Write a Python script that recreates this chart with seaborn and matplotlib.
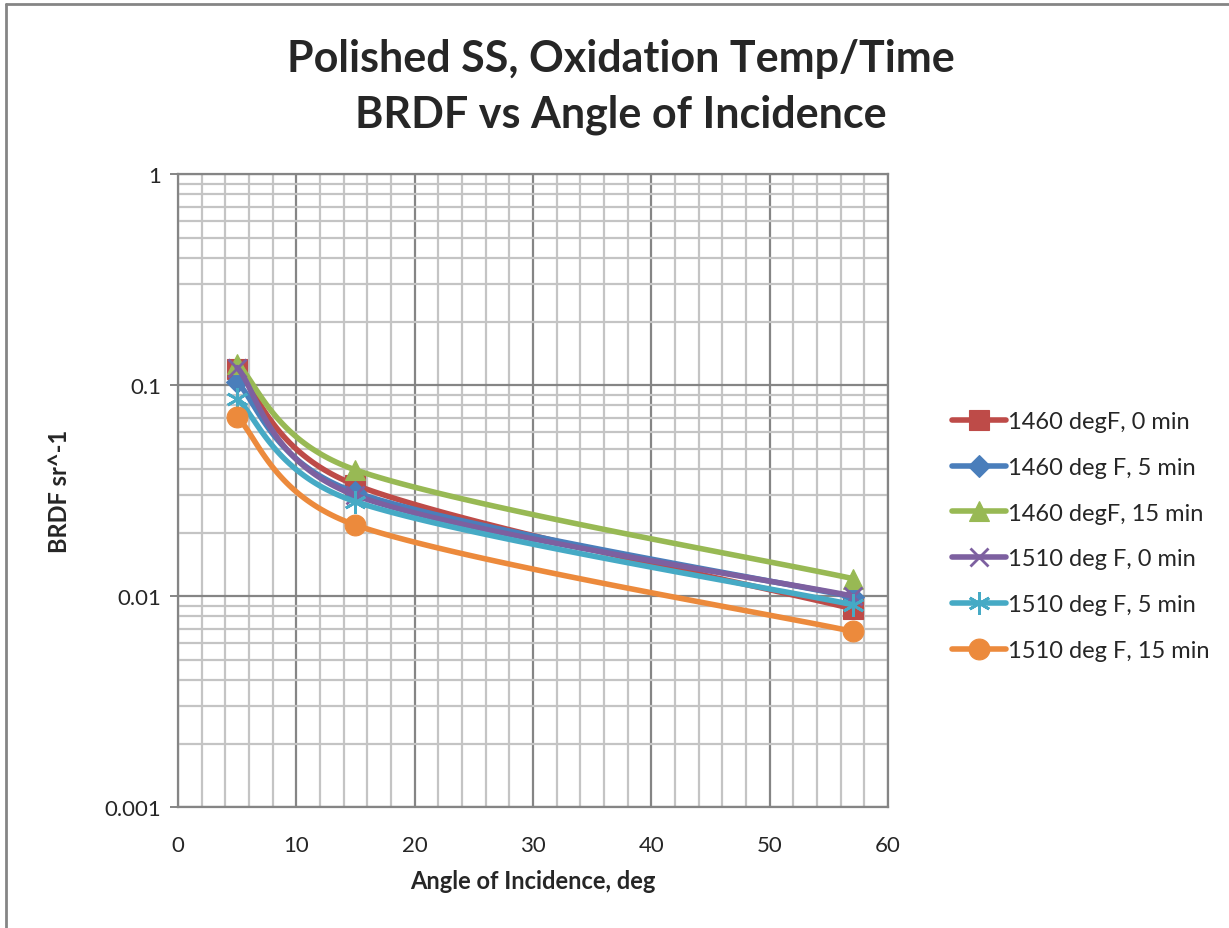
import numpy as np
import pandas as pd
import matplotlib
matplotlib.use("Agg")
import matplotlib.pyplot as plt
import matplotlib.ticker as mticker
from matplotlib.lines import Line2D
import seaborn as sns

# ── data ────────────────────────────────────────────────
angles = [5, 15, 57]
series_names = [
    "1460 degF, 0 min",
    "1460 deg F, 5 min",
    "1460 degF, 15 min",
    "1510 deg F, 0 min",
    "1510 deg F, 5 min",
    "1510 deg F, 15 min",
]
brdf_1460_0 = [0.119, 0.0336, 0.0087]
brdf_1460_5 = [0.103, 0.0310, 0.0099]
brdf_1460_15 = [0.126, 0.0396, 0.0121]
brdf_1510_0 = [0.121, 0.0300, 0.0100]
brdf_1510_5 = [0.086, 0.0280, 0.0091]
brdf_1510_15 = [0.0705, 0.0217, 0.0068]
all_values = [brdf_1460_0, brdf_1460_5, brdf_1460_15,
              brdf_1510_0, brdf_1510_5, brdf_1510_15]

# ── style ───────────────────────────────────────────────
colors = ["#BE4B48", "#4A7EBB", "#98B954", "#7D60A0", "#46AAC5", "#EC8A3C"]
markers = ["s", "D", "^", "x", (6, 2, 0), "o"]
msizes = [14, 11, 14, 13, 16, 15]
medges = [0.8, 0.8, 0.8, 2.0, 2.0, 0.8]

sns.set_theme(style="white")
plt.rcParams["font.family"] = ["Lato", "DejaVu Sans"]

# pixel scale of the plot area: px per x unit, px per decade
PX_X, PX_Y = 11.83, 211.0


def smooth(xs, ys, n=60, clamp=0.55):
    """Excel-like smoothed curve (Catmull-Rom in screen space, clamped)."""
    pts = np.column_stack([np.asarray(xs, float) * PX_X, np.log10(ys) * PX_Y])
    ext = np.vstack([pts[0], pts, pts[-1]])
    tang = [(ext[i + 1] - ext[i - 1]) / 6 for i in range(1, len(ext) - 1)]
    out = []
    for i in range(len(pts) - 1):
        p1, p2 = pts[i], pts[i + 1]
        L = np.linalg.norm(p2 - p1)
        a, b = tang[i], tang[i + 1]
        if np.linalg.norm(a) > clamp * L:
            a = a / np.linalg.norm(a) * clamp * L
        if np.linalg.norm(b) > clamp * L:
            b = b / np.linalg.norm(b) * clamp * L
        c1, c2 = p1 + a, p2 - b
        t = np.linspace(0, 1, n)[:, None]
        seg = ((1 - t) ** 3 * p1 + 3 * (1 - t) ** 2 * t * c1
               + 3 * (1 - t) * t ** 2 * c2 + t ** 3 * p2)
        out.append(seg if i == 0 else seg[1:])
    seg = np.vstack(out)
    return seg[:, 0] / PX_X, 10 ** (seg[:, 1] / PX_Y)


fig = plt.figure(figsize=(12.29, 9.29), dpi=100)
ax = fig.add_axes([0.1448, 0.1302, 0.5778, 0.6814])

handles = []
for i, (name, vals) in enumerate(zip(series_names, all_values)):
    sx, sy = smooth(angles, vals)
    curve = pd.DataFrame({"angle": sx, "brdf": sy})
    sns.lineplot(data=curve, x="angle", y="brdf", sort=False, ax=ax,
                 color=colors[i], linewidth=4, zorder=3 + i * 0.1)
    ax.plot(angles, vals, linestyle="none", marker=markers[i],
            markersize=msizes[i], color=colors[i],
            markeredgewidth=medges[i], markeredgecolor=colors[i],
            zorder=3.05 + i * 0.1)
    handles.append(Line2D([0], [0], color=colors[i], linewidth=4,
                          marker=markers[i], markersize=msizes[i],
                          markeredgecolor=colors[i], markeredgewidth=medges[i]))

ax.set_yscale("log")
ax.set_xlim(0, 60)
ax.set_ylim(0.001, 1)
ax.xaxis.set_major_locator(mticker.MultipleLocator(10))
ax.xaxis.set_minor_locator(mticker.MultipleLocator(2))
ax.yaxis.set_major_locator(mticker.LogLocator(base=10, numticks=10))
ax.yaxis.set_minor_locator(mticker.LogLocator(base=10, subs=np.arange(2, 10), numticks=20))
ax.yaxis.set_major_formatter(mticker.FuncFormatter(lambda v, p: f"{v:g}"))
ax.yaxis.set_minor_formatter(mticker.NullFormatter())

ax.grid(which="major", color="#858585", linewidth=1.6, zorder=0)
ax.grid(which="minor", color="#C4C4C4", linewidth=1.6, zorder=0)
ax.set_axisbelow(True)
for s in ax.spines.values():
    s.set_color("#858585")
    s.set_linewidth(1.6)

ax.tick_params(axis="y", which="major", left=True, length=6, width=1.4,
               color="#858585", labelsize=16, pad=6)
ax.tick_params(axis="y", which="minor", left=False)
ax.tick_params(axis="x", which="both", bottom=False, labelsize=16, pad=14)

ax.set_xlabel("Angle of Incidence, deg", fontsize=17, fontweight="bold", labelpad=10)
ax.set_ylabel("BRDF sr^-1", fontsize=17, fontweight="bold", labelpad=24)

fig.text(0.505, 0.936, "Polished SS, Oxidation Temp/Time", ha="center", va="center",
         fontsize=31, fontweight="bold")
fig.text(0.505, 0.876, "BRDF vs Angle of Incidence", ha="center", va="center",
         fontsize=31, fontweight="bold")

fig.legend(handles, series_names, loc="center left",
           bbox_to_anchor=(0.757, 0.422), frameon=False, fontsize=17,
           handlelength=2.3, handletextpad=0.1, labelspacing=1.05)

# chart-area border (left and top edges visible)
fig.add_artist(Line2D([6 / 1229, 6 / 1229], [0, 1 - 5 / 929],
                      color="#858585", linewidth=2, transform=fig.transFigure))
fig.add_artist(Line2D([6 / 1229, 1], [1 - 5 / 929, 1 - 5 / 929],
                      color="#858585", linewidth=2, transform=fig.transFigure))

fig.savefig("out.png", dpi=100, facecolor="white")
